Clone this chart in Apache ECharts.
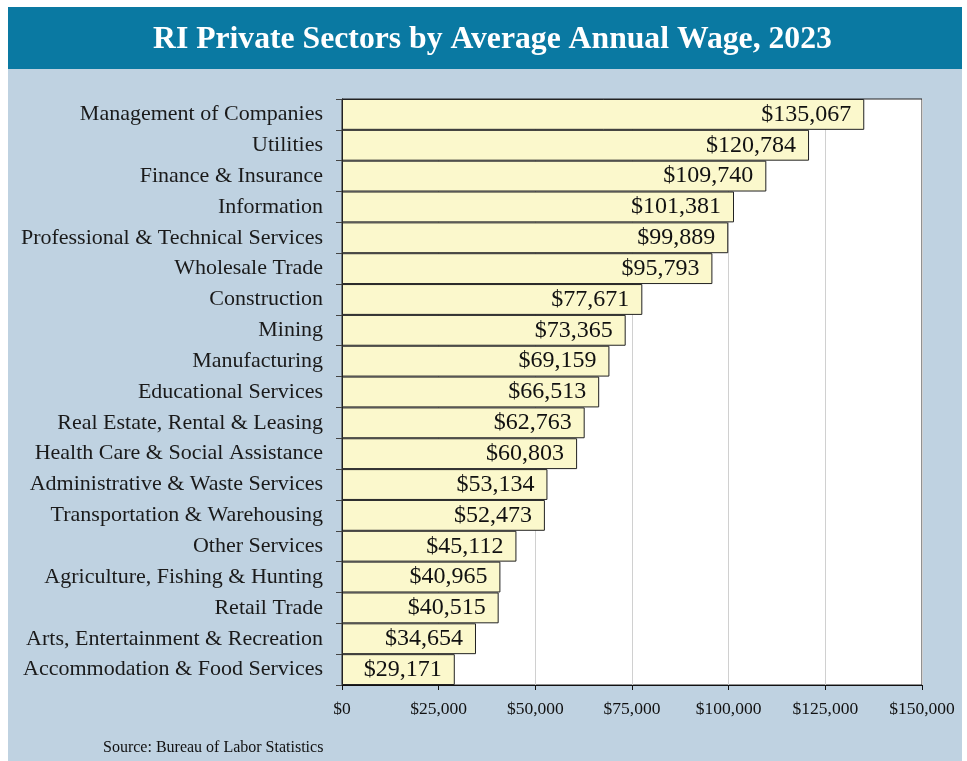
<!DOCTYPE html>
<html>
<head>
<meta charset="utf-8">
<script src="https://cdn.jsdelivr.net/npm/echarts@6/dist/echarts.min.js"></script>
<style>html,body{margin:0;padding:0;background:#fff}#c{width:967px;height:761px}</style>
</head>
<body>
<div id="c"></div>
<script>
const categories = [
  "Management of Companies","Utilities","Finance & Insurance","Information",
  "Professional & Technical Services","Wholesale Trade","Construction","Mining",
  "Manufacturing","Educational Services","Real Estate, Rental & Leasing",
  "Health Care & Social Assistance","Administrative & Waste Services",
  "Transportation & Warehousing","Other Services","Agriculture, Fishing & Hunting",
  "Retail Trade","Arts, Entertainment & Recreation","Accommodation & Food Services"
];
const wages = [135067,120784,109740,101381,99889,95793,77671,73365,69159,66513,62763,60803,53134,52473,45112,40965,40515,34654,29171];
const titleText = "RI Private Sectors by Average Annual Wage, 2023";
const sourceText = "Source: Bureau of Labor Statistics";

const fmt = v => '$' + v.toLocaleString('en-US');
const serif = "'Liberation Serif','Times New Roman',serif";

const chart = echarts.init(document.getElementById('c'));
chart.setOption({
  backgroundColor: '#ffffff',
  animation: false,
  graphic: [
    {type:'rect', z:-10, shape:{x:8,y:7,width:954,height:760}, style:{fill:'#bfd2e1'}},
    {type:'rect', z:-9, shape:{x:8,y:7,width:954,height:62}, style:{fill:'#0a79a2'}},
    {type:'text', left:103, top:740, style:{text:sourceText, font:"16px " + serif, fill:'#111'}}
  ],
  title: {
    text: titleText, left: 148, top: 19,
    textStyle: {color:'#fff', fontFamily: serif, fontWeight:'bold', fontSize:31.7}
  },
  grid: {left:342, right:45, top:99, bottom:76, show:true, backgroundColor:'#fff', borderColor:'#222', borderWidth:1},
  xAxis: {
    type:'value', min:0, max:150000, interval:25000,
    axisLine:{show:true, lineStyle:{color:'#111'}},
    axisTick:{show:true, length:5, lineStyle:{color:'#111'}},
    splitLine:{show:true, lineStyle:{color:'#d0d0d0'}},
    axisLabel:{formatter: v => fmt(v), fontFamily: serif, fontSize:17.5, color:'#111', margin:15}
  },
  yAxis: {
    type:'category', data:categories, inverse:true,
    axisLine:{show:true, lineStyle:{color:'#111'}},
    axisTick:{show:true, length:6, lineStyle:{color:'#444'}},
    axisLabel:{fontFamily: serif, fontSize:22, color:'#1a1a1a', margin:19}
  },
  series: [{
    type:'bar', data:wages, barCategoryGap:'0%',
    itemStyle:{color:'#fbf8cc', borderColor:'#222', borderWidth:1},
    label:{show:true, position:'insideRight', distance:13, formatter: p => fmt(p.value), fontFamily: serif, fontSize:24, color:'#111'}
  }]
});
</script>
</body>
</html>
